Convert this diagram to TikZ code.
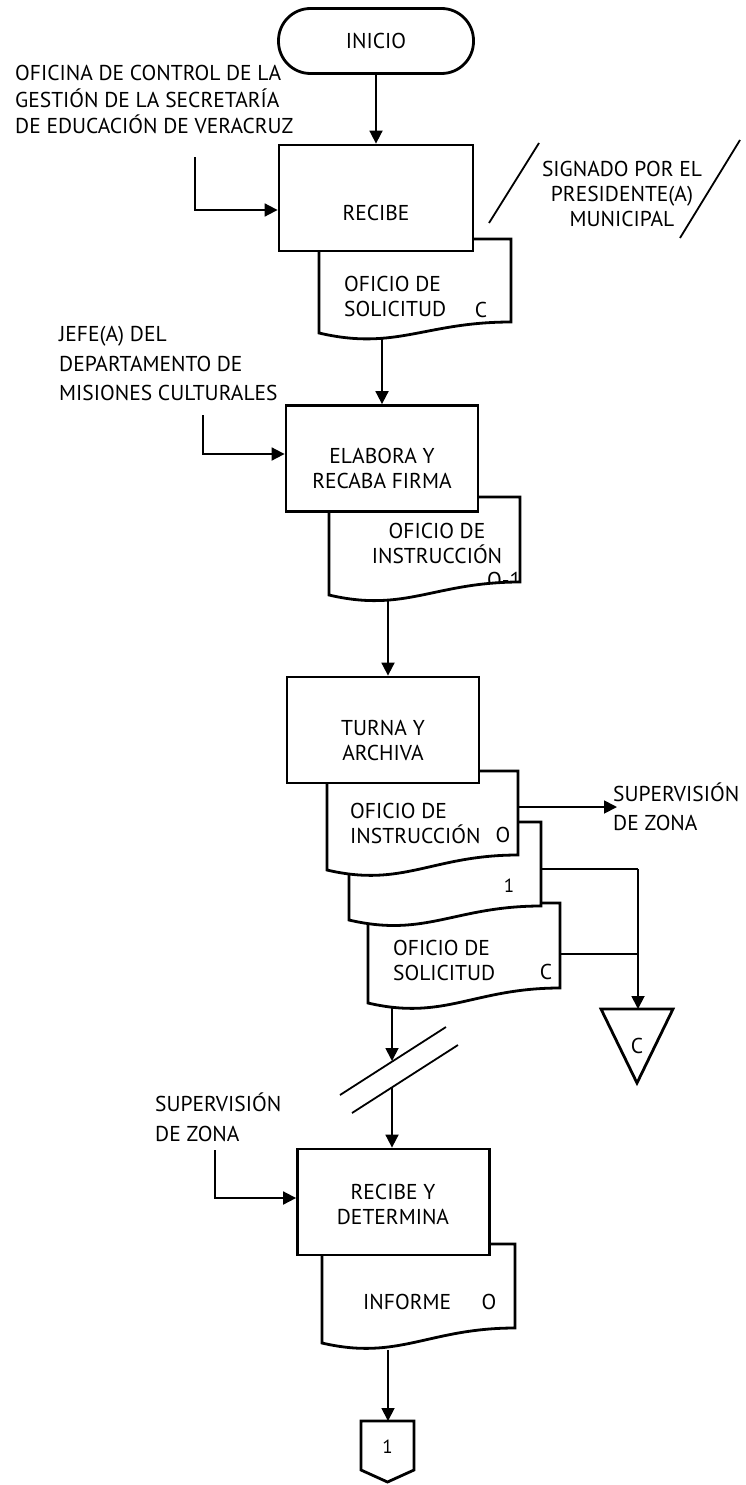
\documentclass[tikz,border=0pt]{standalone}
\usepackage{fontspec}
\setmainfont{PT Sans}
\usetikzlibrary{arrows.meta}

% document symbol with a wavy lower edge: options, left, top, right, bottom-left y, bottom-right y
\newcommand\docshape[6]{%
  \path[#1] (#2,#3) -- (#4,#3) -- (#4,#6)
    .. controls ({#2+0.55*(#4-#2)},#6) and ({#2+0.4*(#4-#2)},{#5+18}) .. (#2,#5) -- cycle;}

\begin{document}
\begin{tikzpicture}[x=1pt,y=-1pt,
  every node/.style={inner sep=0pt, font=\fontsize{21.5}{25}\selectfont},
  box/.style={draw, line width=2.8pt, fill=white, minimum width=192pt, minimum height=106pt},
  term/.style={draw, line width=2.8pt, rounded corners=32pt, minimum width=195pt, minimum height=65pt},
  doc/.style={draw, line width=2.8pt, fill=white},
  shapeline/.style={draw, line width=2.8pt, fill=white, line join=miter},
  flow/.style={line width=1.8pt, -{Triangle[length=13pt,width=13pt]}},
  wire/.style={line width=1.8pt},
  lbl/.style={align=left, anchor=north west},
  small/.style={font=\fontsize{19}{22}\selectfont}
]
\useasboundingbox (0,0) rectangle (746,1485);

% ---------- start ----------
\node[term] (inicio) at (376,41) {INICIO};

% ---------- RECIBE ----------
\docshape{doc}{319}{239}{511}{333}{322}
\node[lbl] (ofsol1) at (344,276) {OFICIO DE\\SOLICITUD};
\node (ofsol1c) at (481,310) {C};
\node[box, minimum width=194pt] (recibe) at (376,198) {};
\node (recibet) at (376,213) {RECIBE};

\node[lbl, font=\fontsize{21.5}{26.5}\selectfont] (oficina) at (15,65)
  {OFICINA DE CONTROL DE LA\\GESTIÓN DE LA SECRETARÍA\\DE EDUCACIÓN DE VERACRUZ};
\coordinate (oficinaout) at (195,157);

\node[align=center, anchor=north] (signado) at (622,161)
  {SIGNADO POR EL\\PRESIDENTE(A)\\MUNICIPAL};
\coordinate (sgA1) at (489,223); \coordinate (sgA2) at (539,143);
\coordinate (sgB1) at (680,238); \coordinate (sgB2) at (740,140);
\draw[wire] (sgA1) -- (sgA2);
\draw[wire] (sgB1) -- (sgB2);

\draw[flow] (inicio.south) -- (recibe.north);
\draw[flow] (oficinaout) |- ([yshift=-12pt]recibe.west);

% ---------- ELABORA Y RECABA FIRMA ----------
\docshape{doc}{329}{497}{520}{595}{582}
\node[align=center, anchor=north] (ofins1) at (437,523) {OFICIO DE\\INSTRUCCIÓN};
\begin{scope}
  \docshape{clip}{329}{497}{520}{595}{582}
  \node[anchor=north west] (ofins1c) at (487,572) {O-1};
\end{scope}
\node[box] (elabora) at (382,458.5) {};
\node[align=center, anchor=north] (elaborat) at (382,448) {ELABORA Y\\RECABA FIRMA};

\node[lbl, font=\fontsize{21.5}{29.5}\selectfont] (jefe) at (59,326)
  {JEFE(A) DEL\\DEPARTAMENTO DE\\MISIONES CULTURALES};
\coordinate (jefeout) at (203,415);
\coordinate (ofsol1out) at (382,337);

\draw[flow] (ofsol1out) -- (elabora.north);
\draw[flow] (jefeout) |- ([yshift=4.5pt]elabora.west);

% ---------- TURNA Y ARCHIVA ----------
\docshape{doc}{368}{903}{560}{1003}{988}
\node[lbl] (ofsol2) at (393,940) {OFICIO DE\\SOLICITUD};
\node (ofsol2c) at (546,972) {C};
\docshape{doc}{349}{822}{541}{920}{906}
\node[small] (copy1) at (509,886) {1};
\docshape{doc}{327}{771}{518}{870}{855}
\node[lbl] (ofins2) at (350,803) {OFICIO DE\\INSTRUCCIÓN};
\node (ofins2c) at (503,835) {O};
\node[box] (turna) at (383,730) {};
\node[align=center, anchor=north] (turnat) at (383,720) {TURNA Y\\ARCHIVA};

\coordinate (ofins1out) at (388,601);
\draw[flow] (ofins1out) -- (ofins1out |- turna.north);

\node[lbl, font=\fontsize{21.5}{29}\selectfont] (superv1) at (613,783) {SUPERVISIÓN\\DE ZONA};
\coordinate (ofins2out) at (518,807);
\coordinate (superv1in) at (617,807);
\draw[flow] (ofins2out) -- (superv1in);

% archive triangle
\coordinate (archtop) at (637,1009);
\path[shapeline] (601,1009) -- (673,1009) -- (637,1083) -- cycle;
\node (archc) at (637,1046) {C};
\coordinate (copy1out) at (541,869);
\coordinate (ofsol2out) at (560,954);
\coordinate (join) at (638,869);
\draw[wire] (copy1out) -- (join);
\draw[wire] (ofsol2out) -- (ofsol2out -| join);
\draw[flow] (join) -- (join |- archtop);

% ---------- time break ----------
\coordinate (brA1) at (340,1095); \coordinate (brA2) at (446,1027);
\coordinate (brB1) at (352,1113); \coordinate (brB2) at (458,1045);
\draw[wire] (brA1) -- (brA2);
\draw[wire] (brB1) -- (brB2);
\coordinate (ofsol3out) at (392,1006);
\coordinate (brin) at (392,1061);
\coordinate (brout) at (392,1087);
\draw[flow] (ofsol3out) -- (brin);

% ---------- RECIBE Y DETERMINA ----------
\docshape{doc}{322}{1244}{515}{1343}{1328}
\node[anchor=west] (informe) at (363,1302) {INFORME};
\node (informec) at (489,1302) {O};
\node[box] (rdet) at (393.5,1202) {};
\node[align=center, anchor=north] (rdett) at (393,1184) {RECIBE Y\\DETERMINA};

\node[lbl, font=\fontsize{21.5}{30}\selectfont] (superv2) at (155,1093) {SUPERVISIÓN\\DE ZONA};
\coordinate (superv2out) at (215,1150);

\draw[flow] (brout) -- (brout |- rdet.north);
\draw[flow] (superv2out) |- ([yshift=4pt]rdet.west);

% ---------- off-page connector ----------
\path[shapeline] (361,1421) -- (414,1421) -- (414,1470) -- (387.5,1482) -- (361,1470) -- cycle;
\coordinate (conntop) at (388,1421);
\node[small] (connt) at (387.5,1447) {1};
\coordinate (informeout) at (388,1350);
\draw[flow] (informeout) -- (conntop);
\end{tikzpicture}
\end{document}
